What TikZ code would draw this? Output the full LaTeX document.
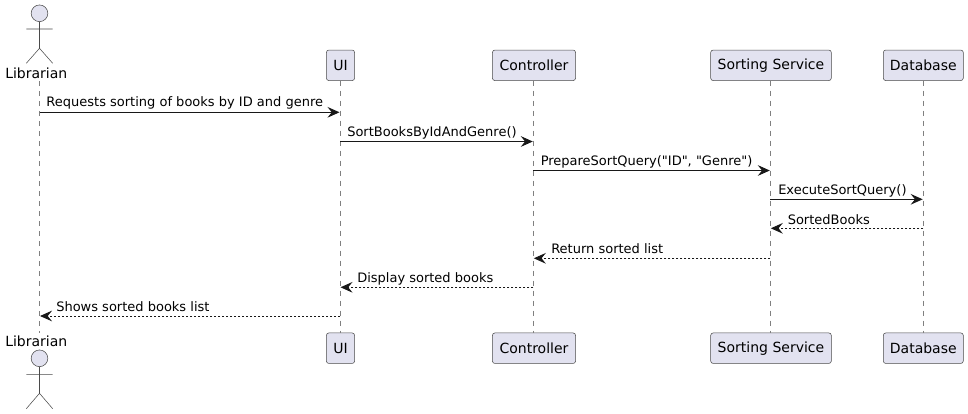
\documentclass[tikz,border=0pt]{standalone}
\usepackage{fontspec}
\setmainfont{DejaVu Sans}
\newfontfamily\dvplain{DejaVu Sans}
\usetikzlibrary{arrows.meta}
\definecolor{pfill}{HTML}{E2E2F0}
\definecolor{pline}{HTML}{181818}
\definecolor{boxline}{HTML}{4A4A4A}
\definecolor{lifegray}{HTML}{808080}
\tikzset{
  pbox/.style={draw=boxline,fill=pfill,rounded corners=1.9pt,line width=0.4pt,minimum height=22.9pt,inner sep=0pt,font=\fontsize{10.5pt}{12pt}\selectfont,text=black},
  life/.style={draw=lifegray,line width=0.38pt,dash pattern=on 3.75pt off 3.75pt},
  figure/.style={draw=boxline,line width=0.4pt},
  msg/.style={draw=pline,line width=0.75pt,-{Stealth[length=9pt,width=8pt,inset=3.2pt,fill=pline]}},
  ret/.style={draw=pline,line width=0.75pt,dash pattern=on 1.5pt off 1.5pt,-{Stealth[length=9pt,width=8pt,inset=3.2pt,fill=pline]}},
  lab/.style={font=\dvplain\fontsize{9.75pt}{11pt}\selectfont,text=black,inner sep=0pt,anchor=base west},
  alab/.style={font=\fontsize{10.5pt}{12pt}\selectfont,text=black,inner sep=0pt,anchor=base},
}
\begin{document}
\begin{tikzpicture}[x=0.75pt,y=-0.75pt]
\useasboundingbox (0,0) rectangle (968,414);
\coordinate (lt) at (39.5,81);  \coordinate (lb) at (39.5,333);
\node[pbox,minimum width=21.2pt] (uit) at (340.5,65.3) {UI};
\node[pbox,minimum width=21.2pt] (uib) at (340.5,348.2) {UI};
\node[pbox,minimum width=62.4pt] (ct) at (534,65.3) {Controller};
\node[pbox,minimum width=62.4pt] (cb) at (534,348.2) {Controller};
\node[pbox,minimum width=90.5pt] (st) at (771,65.3) {Sorting Service};
\node[pbox,minimum width=90.5pt] (sb) at (771,348.2) {Sorting Service};
\node[pbox,minimum width=60pt] (dt) at (923.3,65.3) {Database};
\node[pbox,minimum width=60pt] (db) at (923.3,348.2) {Database};
% lifelines
\coordinate (ut1) at (340,80.7); \coordinate (ub1) at (340,333);
\coordinate (ct1) at (533.3,80.7); \coordinate (cb1) at (533.3,333);
\coordinate (st1) at (770.3,80.7); \coordinate (sb1) at (770.3,333);
\coordinate (dt1) at (923.3,80.7); \coordinate (db1) at (923.3,333);
\draw[life] (lt) -- (lb);
\draw[life] (ut1) -- (ub1);
\draw[life] (ct1) -- (cb1);
\draw[life] (st1) -- (sb1);
\draw[life] (dt1) -- (db1);
% actors
\node[alab] (lat) at (36.3,78.7) {Librarian};
\node[alab] (lab) at (36.3,346.7) {Librarian};
\draw[figure,fill=pfill] (39.5,13.3) circle (6.25pt);
\draw[figure] (39.5,21.7) -- (39.5,48.3) (26.3,29) -- (52.7,29) (26.3,63.3) -- (39.5,48.3) -- (52.7,63.3);
\draw[figure,fill=pfill] (39.5,358.3) circle (6.25pt);
\draw[figure] (39.5,366.7) -- (39.5,393.3) (26.3,374.3) -- (52.7,374.3) (26.3,408.7) -- (39.5,393.3) -- (52.7,408.7);
% messages
\coordinate (m1a) at (39.5,112.3); \coordinate (m1b) at (339.5,112.3);
\coordinate (m2a) at (340,141.5); \coordinate (m2b) at (532.8,141.5);
\coordinate (m3a) at (533.3,170.5); \coordinate (m3b) at (769.8,170.5);
\coordinate (m4a) at (770.3,199.3); \coordinate (m4b) at (922.7,199.3);
\coordinate (m5a) at (923.3,228.3); \coordinate (m5b) at (770.8,228.3);
\coordinate (m6a) at (770.3,258.3); \coordinate (m6b) at (533.8,258.3);
\coordinate (m7a) at (533.3,287.3); \coordinate (m7b) at (340.5,287.3);
\coordinate (m8a) at (340,316); \coordinate (m8b) at (40,316);
\draw[msg] (m1a) -- (m1b);
\draw[msg] (m2a) -- (m2b);
\draw[msg] (m3a) -- (m3b);
\draw[msg] (m4a) -- (m4b);
\draw[ret] (m5a) -- (m5b);
\draw[ret] (m6a) -- (m6b);
\draw[ret] (m7a) -- (m7b);
\draw[ret] (m8a) -- (m8b);
\node[lab] (t1) at (46.2,106.7) {Requests sorting of books by ID and genre};
\node[lab] (t2) at (347,136) {SortBooksByIdAndGenre()};
\node[lab] (t3) at (540.5,165) {PrepareSortQuery("ID", "Genre")};
\node[lab] (t4) at (778,194.7) {ExecuteSortQuery()};
\node[lab] (t5) at (787.5,224) {SortedBooks};
\node[lab] (t6) at (551,253) {Return sorted list};
\node[lab] (t7) at (357,282) {Display sorted books};
\node[lab] (t8) at (56,311) {Shows sorted books list};
\end{tikzpicture}
\end{document}
